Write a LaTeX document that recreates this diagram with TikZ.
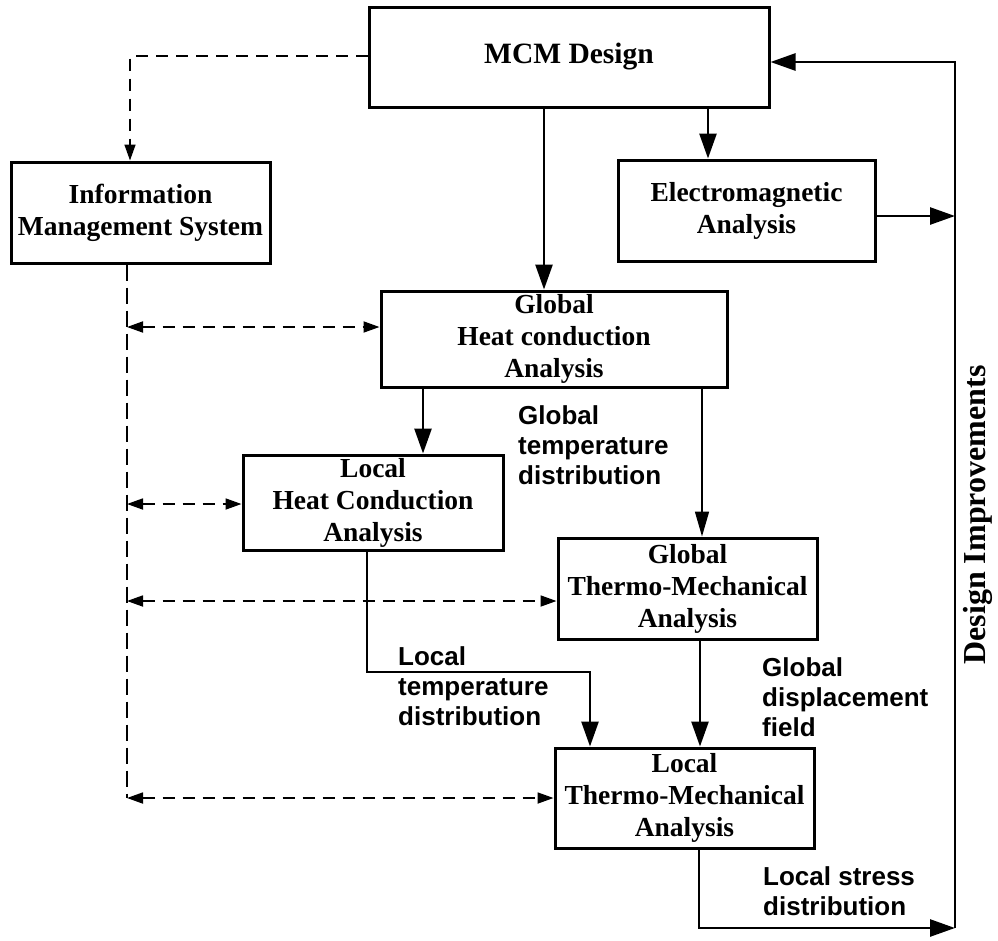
\documentclass[tikz,border=0pt]{standalone}
\usepackage{fontspec}
\setmainfont{Liberation Serif}
\setsansfont{Liberation Sans}
\usetikzlibrary{arrows.meta}

\begin{document}
\begin{tikzpicture}[x=1pt,y=-1pt,
        box/.style={draw,line width=3pt,inner sep=0pt,align=center,
            font=\fontsize{27.5}{32}\selectfont\bfseries},
        lbl/.style={anchor=west,align=left,inner sep=0pt,
            font=\sffamily\fontsize{26}{30}\selectfont\bfseries},
        arr/.style={line width=2.6pt,-{Triangle[length=25pt,width=17pt]}},
        darr/.style={line width=1.8pt,dash pattern=on 12pt off 8pt,
            {Triangle[length=16pt,width=11pt]}-{Triangle[length=16pt,width=11pt]}}]
            \useasboundingbox (0,0) rectangle (998,940);

            \node[box,minimum width=400pt,minimum height=100pt,
                font=\fontsize{29.5}{34}\selectfont\bfseries] (mcm) at (569,57) {MCM Design};
            \node[box,minimum width=259pt,minimum height=101pt] (ims) at (140.5,212.5) {Information\\Management System};
            \node[box,minimum width=257pt,minimum height=101pt] (em) at (746.5,210.5) {Electromagnetic\\Analysis};
            \node[box,minimum width=346pt,minimum height=96pt] (ghc) at (554,339) {Global\\Heat conduction\\Analysis};
            \node[box,minimum width=260pt,minimum height=95pt] (lhc) at (373,502.5) {Local\\Heat Conduction\\Analysis};
            \node[box,minimum width=259pt,minimum height=101pt] (gtm) at (687.5,588.5) {Global\\Thermo-Mechanical\\Analysis};
            \node[box,minimum width=259pt,minimum height=100pt] (ltm) at (684.5,798) {Local\\Thermo-Mechanical\\Analysis};

            \coordinate (dk) at (130,56);
            \coordinate (bt) at (127,263);
            \coordinate (b1) at (127,327);
            \coordinate (b2) at (127,504);
            \coordinate (b3) at (127,601);
            \coordinate (b4) at (127,798);

            \coordinate (m1) at (544,0);
            \coordinate (m2) at (708,0);
            \coordinate (g1) at (423,0);
            \coordinate (g2) at (702,0);
            \coordinate (l1) at (367,672);
            \coordinate (l2) at (590,672);
            \coordinate (t1) at (700,0);
            \coordinate (s1) at (699,928);
            \coordinate (s2) at (955,928);
            \coordinate (fr) at (955,62);
            \coordinate (e1) at (955,216);

            % information flow
            \draw[line width=1.6pt,dash pattern=on 12pt off 8pt,-{Triangle[length=16pt,width=11pt]}]
                (mcm.west |- dk) -- (dk) -- (dk |- ims.north);
            \draw[line width=2.2pt,dash pattern=on 16pt off 7pt] (ims.south -| bt) -- (b4);
            \foreach \b/\n in {b1/ghc,b2/lhc,b3/gtm,b4/ltm}{
                \draw[darr] (\b) -- (\b -| \n.west);
            }

            % analysis chain
            \draw[arr] (mcm.south -| m1) -- (ghc.north -| m1);
            \draw[arr] (mcm.south -| m2) -- (em.north -| m2);
            \draw[arr] (ghc.south -| g1) -- (lhc.north -| g1);
            \draw[line width=1.6pt,-{Triangle[length=25pt,width=14pt]}] (ghc.south -| g2) -- (gtm.north -| g2);
            \draw[arr] (lhc.south -| l1) -- (l1) -- (l2) -- (ltm.north -| l2);
            \draw[arr] (gtm.south -| t1) -- (ltm.north -| t1);
            \draw[arr] (ltm.south -| s1) -- (s1) -- (s2);
            \draw[arr] (em.east |- e1) -- (e1);
            \draw[arr] (s2) -- (fr) -- (mcm.east |- fr);

            \node[lbl] (gtd) at (518,445) {Global\\temperature\\distribution};
            \node[lbl] (ltd) at (398,686) {Local\\temperature\\distribution};
            \node[lbl] (gdf) at (762,697) {Global\\displacement\\field};
            \node[lbl] (lsd) at (763,891) {Local stress\\distribution};
            \node[font=\fontsize{32}{36}\selectfont\bfseries,rotate=90] (di) at (978,515) {Design Improvements};
        \end{tikzpicture}
\end{document}
